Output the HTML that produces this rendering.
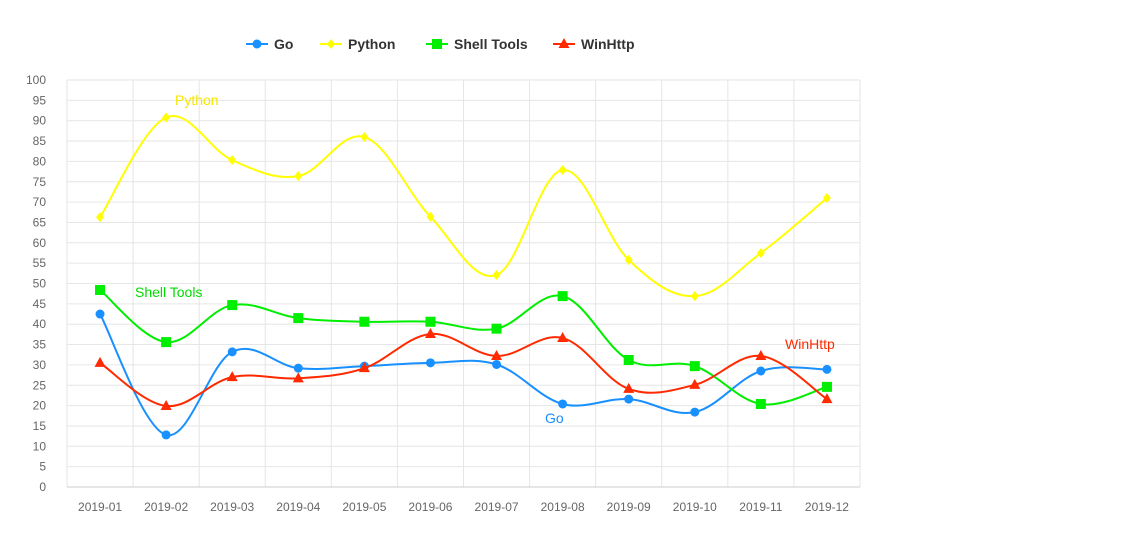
<!DOCTYPE html>
<html><head><meta charset="utf-8"><style>
body{margin:0;background:#fff;font-family:"Liberation Sans",sans-serif}
svg text{font-family:"Liberation Sans",sans-serif}
</style></head><body>
<svg id="chart" width="1134" height="533"></svg>
<script>
const categories=["2019-01","2019-02","2019-03","2019-04","2019-05","2019-06","2019-07","2019-08","2019-09","2019-10","2019-11","2019-12"];
const goValues=[42.5,12.8,33.2,29.2,29.7,30.5,30.1,20.4,21.6,18.4,28.5,28.9];
const pythonValues=[66.3,90.8,80.3,76.4,86,66.4,52.1,77.9,55.8,46.9,57.5,71];
const shellValues=[48.4,35.6,44.7,41.5,40.6,40.6,38.9,46.9,31.2,29.7,20.4,24.6];
const winhttpValues=[30.5,19.9,27,26.7,29.2,37.6,32.2,36.6,24.1,25.1,32.2,21.6];
const yTicks=[0,5,10,15,20,25,30,35,40,45,50,55,60,65,70,75,80,85,90,95,100];
const NS="http://www.w3.org/2000/svg";
const svg=document.getElementById("chart");
const L=67,R=860,T=80,B=487,step=(R-L)/categories.length;
const x=i=>L+step*(i+0.5);
const y=v=>B-(v/100)*(B-T);
function mk(tag,attrs,parent){const e=document.createElementNS(NS,tag);for(const k in attrs)e.setAttribute(k,attrs[k]);(parent||svg).appendChild(e);return e;}
const grid=mk("g",{});


yTicks.forEach(t=>{
  mk("line",{x1:L,x2:R,y1:y(t),y2:y(t),stroke:"#e6e6e6"},grid);
  const tx=mk("text",{x:46,y:y(t)+4,"text-anchor":"end","font-size":12,fill:"#666"});
  tx.textContent=t;
  
  
});
for(let i=0;i<=categories.length;i++)mk("line",{x1:L+step*i,x2:L+step*i,y1:T,y2:B,stroke:"#e6e6e6"},grid);
mk("line",{x1:L,x2:R,y1:B,y2:B,stroke:"#ccc"});
categories.forEach((c,i)=>{
  const tx=mk("text",{x:x(i),y:511,"text-anchor":"middle","font-size":12,fill:"#666"});
  tx.textContent=c;
  
  
});
function pathD(vals){
  const p=vals.map((v,i)=>[x(i),y(v)]);
  let d="M"+p[0][0]+","+p[0][1];
  for(let i=0;i<p.length-1;i++){
    const p0=p[i-1]||p[i],p1=p[i],p2=p[i+1],p3=p[i+2]||p2;
    const k=0.35/1;
    const c1=[p1[0]+(p2[0]-p0[0])*k/2,p1[1]+(p2[1]-p0[1])*k/2];
    const c2=[p2[0]-(p3[0]-p1[0])*k/2,p2[1]-(p3[1]-p1[1])*k/2];
    d+=` C${c1[0]},${c1[1]} ${c2[0]},${c2[1]} ${p2[0]},${p2[1]}`;
  }
  return d;
}
function marker(shape,cx,cy,color,parent){
  if(shape==="circle")return mk("circle",{cx,cy,r:4.5,fill:color},parent);
  if(shape==="diamond")return mk("polygon",{points:`${cx},${cy-5} ${cx+4},${cy} ${cx},${cy+5} ${cx-4},${cy}`,fill:color},parent);
  if(shape==="square")return mk("rect",{x:cx-5,y:cy-5,width:10,height:10,fill:color},parent);
  return mk("polygon",{points:`${cx},${cy-6} ${cx+5.5},${cy+4} ${cx-5.5},${cy+4}`,fill:color},parent);
}
const series=[
  {name:"Go",vals:goValues,color:"#1890ff",shape:"circle",lx:545,ly:423,lc:"#1890ff"},
  {name:"Python",vals:pythonValues,color:"#ffff00",shape:"diamond",lx:175,ly:105,lc:"#f5e600"},
  {name:"Shell Tools",vals:shellValues,color:"#00ee00",shape:"square",lx:135,ly:297,lc:"#00dd00"},
  {name:"WinHttp",vals:winhttpValues,color:"#ff2a00",shape:"triangle",lx:785,ly:349,lc:"#ff2a00"}
];
const legendX=[246,320,426,553];
series.forEach((s,si)=>{
  const g=mk("g",{});
  
  
  mk("path",{d:pathD(s.vals),fill:"none",stroke:s.color,"stroke-width":2},g);
  s.vals.forEach((v,i)=>{
    const m=marker(s.shape,x(i),y(v),s.color,g);
    
    
  });
  const lab=mk("text",{x:s.lx,y:s.ly,"font-size":14,fill:s.lc},g);
  lab.textContent=s.name;
  
  
  const lg=mk("g",{});
  
  
  const lx=legendX[si];
  mk("line",{x1:lx,x2:lx+22,y1:44,y2:44,stroke:s.color,"stroke-width":2},lg);
  marker(s.shape,lx+11,44,s.color,lg);
  const lt=mk("text",{x:lx+28,y:49,"font-size":14,fill:"#333","font-weight":"bold"},lg);
  lt.textContent=s.name;
});
</script>
</body></html>
